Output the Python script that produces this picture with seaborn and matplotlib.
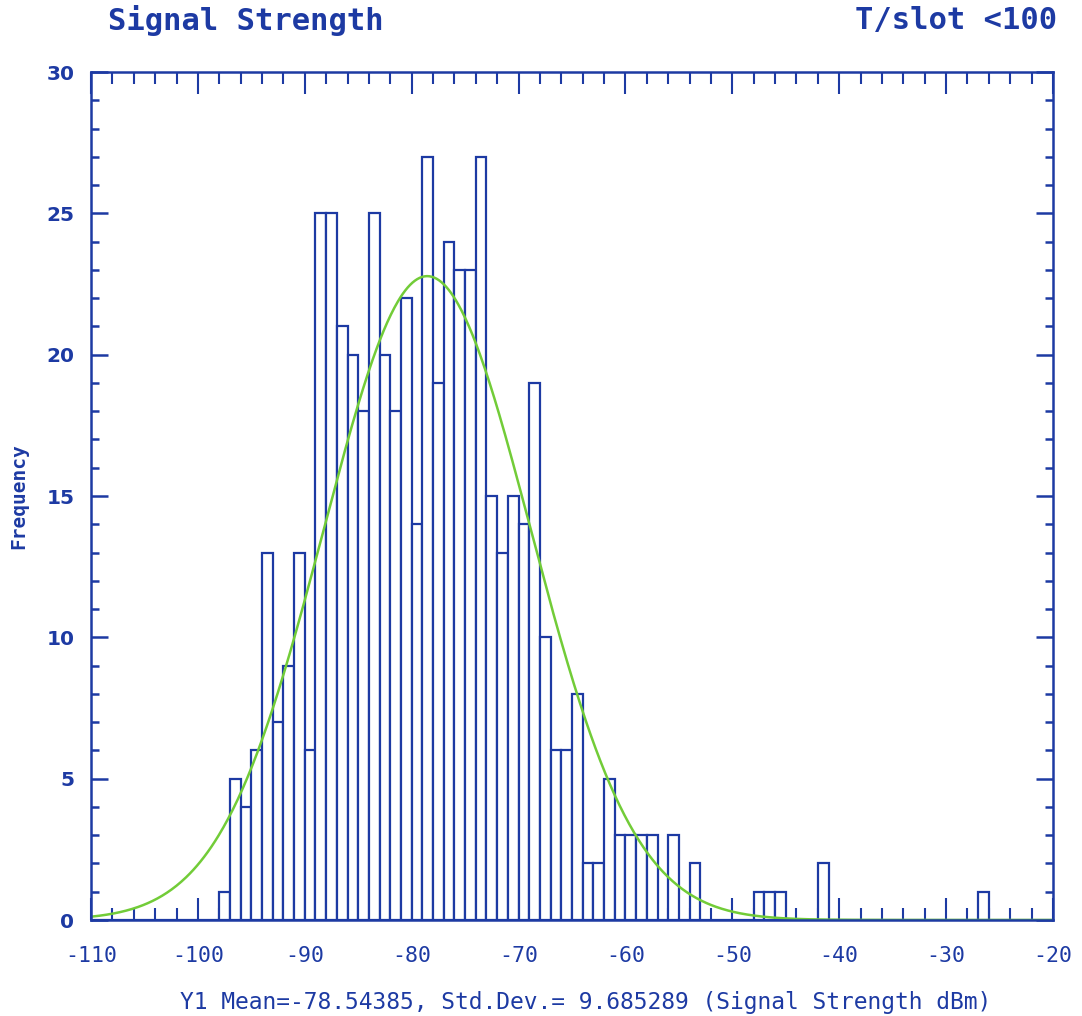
import numpy as np
import pandas as pd
import matplotlib
matplotlib.use("Agg")
import matplotlib.pyplot as plt
import seaborn as sns
from matplotlib.ticker import MultipleLocator, FixedLocator

# Signal strength histogram, 1 dBm bins (left edge of each non-empty bin)
bin_start_dbm = [-98, -97, -96, -95, -94, -93, -92, -91, -90, -89,
                 -88, -87, -86, -85, -84, -83, -82, -81, -80, -79,
                 -78, -77, -76, -75, -74, -73, -72, -71, -70, -69,
                 -68, -67, -66, -65, -64, -63, -62, -61, -60, -59,
                 -58, -56, -54, -48, -47, -46, -42, -27]
frequency = [1, 5, 4, 6, 13, 7, 9, 13, 6, 25,
             25, 21, 20, 18, 25, 20, 18, 22, 14, 27,
             19, 24, 23, 23, 27, 15, 13, 15, 14, 19,
             10, 6, 6, 8, 2, 2, 5, 3, 3, 3,
             3, 3, 2, 1, 1, 1, 2, 1]

# Fitted normal parameters
mean_dbm = -78.54385
std_dbm = 9.685289

x_ticks = [-110, -100, -90, -80, -70, -60, -50, -40, -30, -20]
y_ticks = [0, 5, 10, 15, 20, 25, 30]

title_left = "Signal Strength"
title_right = "T/slot <100"
x_label = "Y1 Mean=-78.54385, Std.Dev.= 9.685289 (Signal Strength dBm)"
y_label = "Frequency"

BLUE = "#1d3aa3"
GREEN = "#72cc38"

sns.set_theme(style="white")
plt.rcParams["font.family"] = ["DejaVu Sans"]
plt.rcParams["axes.unicode_minus"] = False

W, H = 1082, 1016
fig = plt.figure(figsize=(W / 100, H / 100), dpi=100)
fig.patch.set_facecolor("white")
left, right, top, bottom = 91, 1053, 72, 920
ax = fig.add_axes([left / W, 1 - bottom / H, (right - left) / W, (bottom - top) / H])
ax.set_facecolor("white")

bins_df = pd.DataFrame({"dbm": np.array(bin_start_dbm) + 0.5, "count": frequency})
sns.histplot(data=bins_df, x="dbm", weights="count", binwidth=1,
             binrange=(-110, -20), ax=ax, fill=True, color="white",
             edgecolor=BLUE, linewidth=1.6, alpha=1.0, zorder=2)

# Normal curve scaled to counts per 1 dBm bin
n_total = sum(frequency)
xs = np.linspace(-110, -20, 800)
ys = n_total * 1.0 * np.exp(-0.5 * ((xs - mean_dbm) / std_dbm) ** 2) / (std_dbm * np.sqrt(2 * np.pi))
sns.lineplot(x=xs, y=ys, ax=ax, color=GREEN, linewidth=1.8, zorder=3)

ax.set_xlim(-110, -20)
ax.set_ylim(0, 30)
ax.xaxis.set_major_locator(FixedLocator(x_ticks))
ax.xaxis.set_minor_locator(MultipleLocator(2))
ax.yaxis.set_major_locator(FixedLocator(y_ticks))
ax.yaxis.set_minor_locator(MultipleLocator(1))

for sp in ax.spines.values():
    sp.set_visible(True)
    sp.set_color(BLUE)
    sp.set_linewidth(1.8)
    sp.set_zorder(4)

ax.tick_params(axis="x", which="major", direction="in", length=16, width=1.5,
               top=True, bottom=True, color=BLUE, labelcolor=BLUE, pad=19)
ax.tick_params(axis="x", which="minor", direction="in", length=8.5, width=1.5,
               top=True, bottom=True, color=BLUE)
ax.tick_params(axis="y", which="major", direction="in", length=12, width=1.8,
               left=True, right=True, color=BLUE, labelcolor=BLUE, pad=12)
ax.tick_params(axis="y", which="minor", direction="in", length=6, width=1.8,
               left=True, right=True, color=BLUE)

for lab in ax.get_xticklabels():
    lab.set_fontfamily(["DejaVu Sans Mono"])
    lab.set_fontsize(15.5)
for lab in ax.get_yticklabels():
    lab.set_fontfamily(["DejaVu Sans"])
    lab.set_fontweight("bold")
    lab.set_fontsize(14.5)

ax.set_xlabel(x_label, color=BLUE, fontsize=16.5, family=["DejaVu Sans Mono"])
ax.xaxis.set_label_coords((586 - left) / (right - left), -(1003 - bottom) / (bottom - top))
ax.xaxis.label.set_verticalalignment("center")

ax.set_ylabel(y_label, color=BLUE, fontsize=14, fontweight="bold", family=["DejaVu Sans Mono"])
ax.yaxis.set_label_coords(-(left - 19) / (right - left), 0.5)
ax.yaxis.label.set_verticalalignment("center")

fig.text(108 / W, 1 - 21 / H, title_left, color=BLUE, fontsize=22, fontweight="bold",
         family=["DejaVu Sans Mono"], ha="left", va="center")
fig.text(1057 / W, 1 - 21 / H, title_right, color=BLUE, fontsize=22, fontweight="bold",
         family=["DejaVu Sans Mono"], ha="right", va="center")

fig.savefig("out.png", dpi=100, facecolor="white")
